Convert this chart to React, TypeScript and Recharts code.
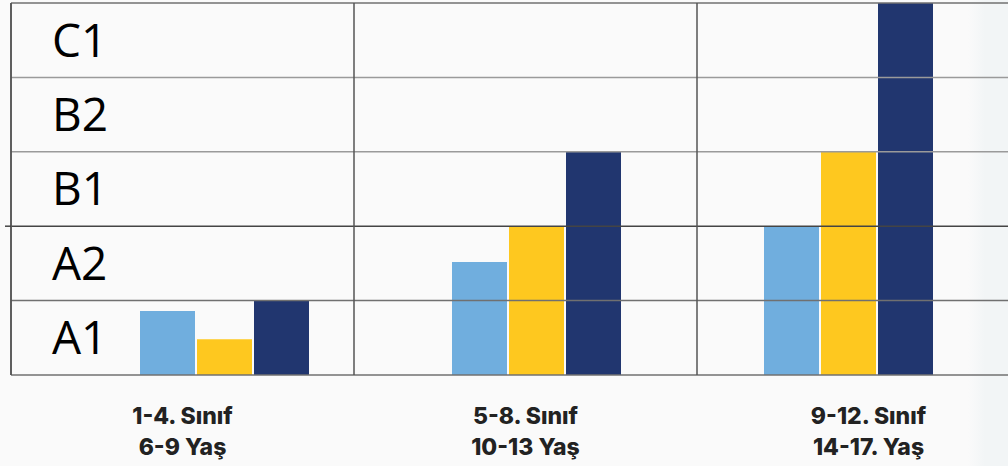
import React from "react";
import { ComposedChart, Bar, XAxis, YAxis, ReferenceLine, ReferenceArea } from "recharts";

const gradeLabels = ["1-4. Sınıf", "5-8. Sınıf", "9-12. Sınıf"];
const ageLabels = ["6-9 Yaş", "10-13 Yaş", "14-17. Yaş"];
const levels = ["A1", "A2", "B1", "B2", "C1"];
const seriesLight = [0.86, 1.52, 2];
const seriesYellow = [0.48, 2, 3];
const seriesNavy = [1, 3, 5];

const data = gradeLabels.map((g, i) => ({
  cat: g,
  light: seriesLight[i],
  yellow: seriesYellow[i],
  navy: seriesNavy[i],
}));

const levelTicks = [0, ...levels.map((_, i) => i + 1)];

const CatTick = (props: any) => {
  const { x, y, payload } = props;
  const i = gradeLabels.indexOf(payload.value);
  return (
    <text
      x={x}
      y={y}
      textAnchor="middle"
      fontFamily="Inter"
      fontWeight={800}
      fontSize={23}
      fill="#222"
    >
      <tspan x={x} dy={19}>{gradeLabels[i]}</tspan>
      <tspan x={x} dy={31}>{ageLabels[i]}</tspan>
    </text>
  );
};

const EmptyTick = () => <g />;

export default function App() {
  return (
    <div
      style={{
        position: "fixed",
        left: 0,
        top: 0,
        width: 1008,
        height: 466,
        overflow: "hidden",
        background: "linear-gradient(to right, #fafafa 0px, #fafafa 968px, #f2f5f6 985px, #f2f5f6 1008px)",
      }}
    >
      <ComposedChart
        width={1040}
        height={466}
        data={data}
        margin={{ top: 3, right: 0, bottom: 0, left: 0 }}
        barGap={2}
      >
        <XAxis
          xAxisId="grid"
          dataKey="cat"
          height={91}
          tickLine={false}
          axisLine={false}
          tickSize={0}
          tickMargin={0}
          tick={<CatTick />}
          interval={0}
        />
        <XAxis
          xAxisId="bars"
          dataKey="cat"
          hide
          padding={{ left: 57, right: 36 }}
        />
        <YAxis
          domain={[0, 5]}
          width={11}
          ticks={[2]}
          tickSize={6}
          tick={<EmptyTick />}
          tickLine={{ stroke: "#444", strokeWidth: 1.5 }}
          axisLine={{ stroke: "#555", strokeWidth: 1.5 }}
          allowDataOverflow
        />
        {levels.map((lv, i) => (
          <ReferenceArea
            key={lv}
            xAxisId="grid"
            y1={i}
            y2={i + 1}
            fill="none"
            fillOpacity={0}
            stroke="none"
            ifOverflow="visible"
            label={{
              value: lv,
              position: "insideLeft",
              offset: 41,
              fontSize: 46,
              fontFamily: "Open Sans",
              fill: "#000",
            }}
          />
        ))}
        {levelTicks.map((v) => (
          <ReferenceLine
            key={"h" + v}
            xAxisId="grid"
            y={v}
            stroke={v === 2 ? "#444" : v === 3 || v === 4 ? "#9a9a9a" : "#707070"}
            strokeWidth={1.5}
            ifOverflow="visible"
          />
        ))}
        {gradeLabels.map((g) => (
          <ReferenceLine
            key={"v" + g}
            xAxisId="grid"
            x={g}
            position="start"
            stroke="#555"
            strokeWidth={1.5}
            ifOverflow="visible"
          />
        ))}
        <Bar xAxisId="bars" dataKey="light" fill="#70AEDE" barSize={55} isAnimationActive={false} />
        <Bar xAxisId="bars" dataKey="yellow" fill="#FEC81F" barSize={55} isAnimationActive={false} />
        <Bar xAxisId="bars" dataKey="navy" fill="#21366F" barSize={55} isAnimationActive={false} />
      </ComposedChart>
    </div>
  );
}
